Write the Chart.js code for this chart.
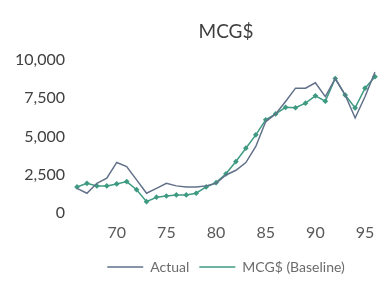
<!DOCTYPE html>
<html>
<head>
<meta charset="utf-8">
<script src="https://cdn.jsdelivr.net/npm/chart.js@4/dist/chart.umd.min.js"></script>
<style>
    html, body {margin: 0; padding: 0; background: #ffffff;}
    #wrap {width: 381px; height: 286px;}
</style>
</head>
<body>
<div id="wrap"><canvas id="mcgChart" width="381" height="286"></canvas></div>
<script>
// DATA -----------------------------------------------------------------------

const years = ['66', '67', '68', '69', '70', '71', '72', '73', '74', '75', '76', '77', '78', '79', '80',
    '81', '82', '83', '84', '85', '86', '87', '88', '89', '90', '91', '92', '93', '94', '95', '96']

const actual = [1610, 1290, 1940, 2270, 3300, 3030, 2160, 1290, 1610, 1940, 1770, 1700, 1700, 1770, 1940,
    2480, 2790, 3290, 4340, 5970, 6470, 7280, 8150, 8150, 8500, 7600, 8780, 7700, 6200, 7600, 9200]

const baseline = [1700, 1940, 1770, 1770, 1900, 2050, 1520, 740, 1030, 1110, 1180, 1180, 1290, 1700, 1980,
    2560, 3360, 4230, 5100, 6080, 6470, 6900, 6870, 7170, 7650, 7300, 8780, 7700, 6860, 8150, 8900]

const yTicks = [0, 2500, 5000, 7500, 10000]

// SETTINGS -------------------------------------------------------------------

const seriesStyle = {
    actual: {name: 'Actual', color: '#62718a'},
    baseline: {name: 'MCG$ (Baseline)', color: '#3f9a82'}
}

const fontFamily = 'Lato, "Open Sans", sans-serif'

// CHART ----------------------------------------------------------------------

new Chart(document.getElementById('mcgChart'), {
    type: 'line',
    data: {
        labels: years,
        datasets: [
            {
                label: seriesStyle.actual.name,
                data: actual,
                borderColor: seriesStyle.actual.color,
                backgroundColor: seriesStyle.actual.color,
                borderWidth: 1.5,
                pointRadius: 0,
                tension: 0
            },
            {
                label: seriesStyle.baseline.name,
                data: baseline,
                borderColor: seriesStyle.baseline.color,
                backgroundColor: seriesStyle.baseline.color,
                borderWidth: 1.5,
                pointStyle: 'rectRot',
                pointRadius: 1.8,
                tension: 0
            }
        ]
    },
    options: {
        responsive: false,
        animation: false,
        layout: {
            padding: {left: 0, right: 6, top: 0, bottom: 2}
        },
        plugins: {
            title: {
                display: true,
                fullSize: false,
                text: 'MCG$',
                color: '#404040',
                font: {family: fontFamily, size: 19, weight: 'normal'},
                padding: {top: 20, bottom: 17}
            },
            legend: {
                position: 'bottom',
                fullSize: false,
                labels: {
                    color: '#6b6b6b',
                    font: {family: fontFamily, size: 14},
                    boxWidth: 36,
                    boxHeight: 0,
                    padding: 10
                }
            },
            tooltip: {enabled: false}
        },
        scales: {
            x: {
                type: 'category',
                offset: false,
                grid: {display: false},
                border: {display: false},
                afterFit: (scale) => {
                    scale.height = 37
                },
                ticks: {
                    autoSkip: false,
                    maxRotation: 0,
                    color: '#595959',
                    font: {family: fontFamily, size: 16},
                    padding: 2,
                    callback: function (value) {
                        const label = this.getLabelForValue(value)
                        return Number(label) % 5 === 0 ? label : ''
                    }
                }
            },
            y: {
                min: 0,
                max: 10000,
                grid: {display: false},
                border: {display: false},
                afterBuildTicks: (scale) => {
                    scale.ticks = yTicks.map(v => ({value: v}))
                },
                afterFit: (scale) => {
                    scale.width = 77
                },
                ticks: {
                    color: '#404040',
                    font: {family: fontFamily, size: 16},
                    padding: 4,
                    callback: (value) => value.toLocaleString('en-US')
                }
            }
        }
    }
});
</script>
</body>
</html>
